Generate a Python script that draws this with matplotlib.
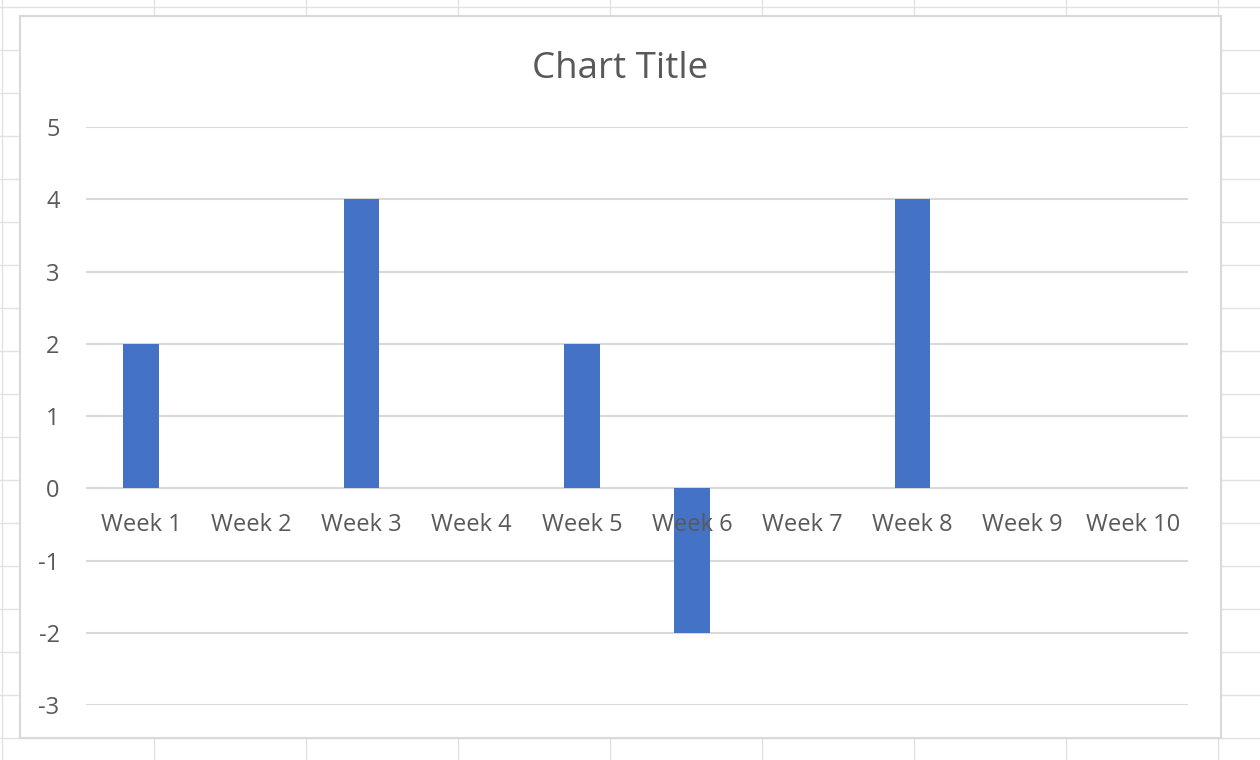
import matplotlib.pyplot as plt
from matplotlib.patches import Rectangle
from matplotlib.transforms import offset_copy

weeks = ["Week 1", "Week 2", "Week 3", "Week 4", "Week 5",
         "Week 6", "Week 7", "Week 8", "Week 9", "Week 10"]
values = [2, 0, 4, 0, 2, -2, 0, 4, 0, 0]
y_ticks = [-3, -2, -1, 0, 1, 2, 3, 4, 5]

W, H = 1260, 760
TEXT = "#595959"
GRID = "#D9D9D9"
BAR = "#4472C4"
plt.rcParams["font.family"] = ["Open Sans", "DejaVu Sans"]

fig = plt.figure(figsize=(W / 100, H / 100), dpi=100)

# spreadsheet cells behind the chart
bg = fig.add_axes([0, 0, 1, 1])
bg.set_xlim(0, W)
bg.set_ylim(H, 0)
bg.axis("off")
for x in range(2, W, 152):
    bg.axvline(x, color="#E1E1E1", lw=1, zorder=1)
for y in range(7, H, 43):
    bg.axhline(y, color="#E1E1E1", lw=1, zorder=1)
bg.add_patch(Rectangle((20, 16), 1201, 722, facecolor="white",
                       edgecolor=GRID, lw=1.5, zorder=5))

# plot area
ax = fig.add_axes([86 / W, 1 - 705 / H, 1102 / W, 578 / H])
ax.set_facecolor("none")
x = range(len(weeks))
ax.bar(x, values, width=0.32, color=BAR, zorder=2)
ax.set_xlim(-0.5, len(weeks) - 0.5)
ax.set_ylim(-3, 5)
ax.set_yticks(y_ticks)
ax.set_yticklabels([str(t) for t in y_ticks])
ax.grid(axis="y", color=GRID, lw=1.5, zorder=0)
ax.set_axisbelow(True)
ax.tick_params(axis="y", length=0, pad=19, labelsize=17, labelcolor=TEXT)
ax.set_xticks([])
for s in ax.spines.values():
    s.set_visible(False)

# category labels sit just under the zero line
lab_tr = offset_copy(ax.transData, fig=fig, x=0, y=-37, units="dots")
for i, w in enumerate(weeks):
    ax.text(i, 0, w, transform=lab_tr, ha="center", va="center",
            fontsize=17, color=TEXT, zorder=3)

fig.text(620 / W, 1 - 69 / H, "Chart Title", ha="center", va="center",
         fontsize=26.5, color=TEXT)

fig.savefig("out.png", dpi=100)
